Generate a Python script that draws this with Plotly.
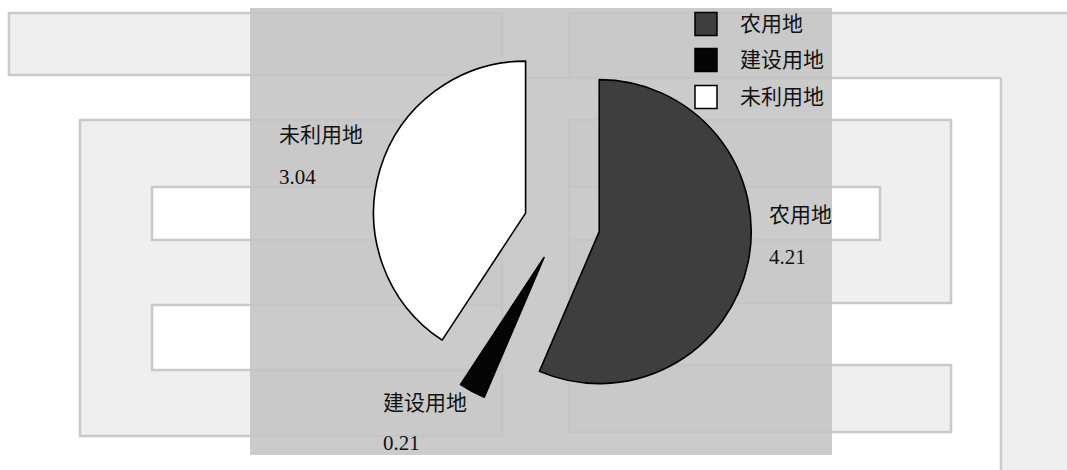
import plotly.graph_objects as go

# ---- data ----
labels = ["农用地", "建设用地", "未利用地"]
values = [4.21, 0.21, 3.04]
value_text = ["4.21", "0.21", "3.04"]
colors = ["#3e3e3e", "#050505", "#ffffff"]

W, H = 1067, 470

def px(x):
    return x / W

def py(y):
    return 1 - y / H

fig = go.Figure()

fig.add_trace(go.Pie(
    labels=labels,
    values=values,
    sort=False,
    direction="clockwise",
    rotation=0,
    pull=[0.25, 0.25, 0.25],
    marker=dict(colors=colors, line=dict(color="#000000", width=1.6)),
    textinfo="none",
    hoverinfo="label+value",
    showlegend=False,
    domain=dict(x=[px(372), px(752)], y=[py(414), py(34)]),
))

shapes = []

def rect(x0, y0, x1, y1, fill, line="#c9c9c9", lw=2.5, opacity=1.0):
    shapes.append(dict(type="rect", xref="paper", yref="paper",
                       x0=px(x0), x1=px(x1), y0=py(y1), y1=py(y0),
                       fillcolor=fill, line=dict(color=line, width=lw),
                       layer="below", opacity=opacity))

def seg(x0, y0, x1, y1):
    shapes.append(dict(type="line", xref="paper", yref="paper",
                       x0=px(x0), x1=px(x1), y0=py(y0), y1=py(y1),
                       line=dict(color="#c9c9c9", width=2.5), layer="below"))

# scanned page background decoration
rect(9, 13, 502, 75, "#efefef")
rect(80, 120, 502, 436, "#efefef")
rect(152, 187, 502, 240, "#ffffff")
rect(152, 305, 502, 370, "#ffffff")
rect(569, 13, 1080, 490, "#efefef")
rect(520, 78, 1001, 490, "#ffffff", line="rgba(0,0,0,0)", lw=0)
seg(520, 78, 1001, 78)
seg(1001, 78, 1001, 490)
rect(569, 120, 951, 303, "#efefef")
rect(569, 187, 880, 240, "#ffffff")
rect(569, 365, 951, 432, "#efefef")
# grey scanned chart area
rect(250, 8, 832, 455, "#c4c4c4", line="rgba(0,0,0,0)", lw=0, opacity=0.88)

annotations = []
font_cn = dict(family="Liberation Serif, Noto Sans CJK SC", size=21, color="#111111")

# legend (manual, square keys)
leg_y = [24, 60, 97]
for lab, col, yc in zip(labels, colors, leg_y):
    shapes.append(dict(type="rect", xref="paper", yref="paper",
                       x0=px(695), x1=px(717), y0=py(yc + 11.5), y1=py(yc - 11.5),
                       fillcolor=col, line=dict(color="#000000", width=1.5),
                       layer="above"))
    annotations.append(dict(x=px(738), y=py(yc), xref="paper", yref="paper",
                            text=lab, showarrow=False, xanchor="left", yanchor="middle",
                            font=font_cn))

# slice labels
label_pos = {
    "农用地": (767, 215, 257),
    "建设用地": (381, 403, 443),
    "未利用地": (277, 135, 177),
}
for lab, vt in zip(labels, value_text):
    x, y1, y2 = label_pos[lab]
    annotations.append(dict(x=px(x), y=py(y1), xref="paper", yref="paper",
                            text=lab, showarrow=False, xanchor="left", yanchor="middle",
                            font=font_cn))
    annotations.append(dict(x=px(x), y=py(y2), xref="paper", yref="paper",
                            text=vt, showarrow=False, xanchor="left", yanchor="middle",
                            font=font_cn))

fig.update_layout(
    width=W, height=H,
    margin=dict(l=0, r=0, t=0, b=0),
    paper_bgcolor="#ffffff",
    plot_bgcolor="#ffffff",
    shapes=shapes,
    annotations=annotations,
    showlegend=False,
)

fig.write_html("out.html", config={"displayModeBar": False},
               post_script="document.body.style.margin='0';")
